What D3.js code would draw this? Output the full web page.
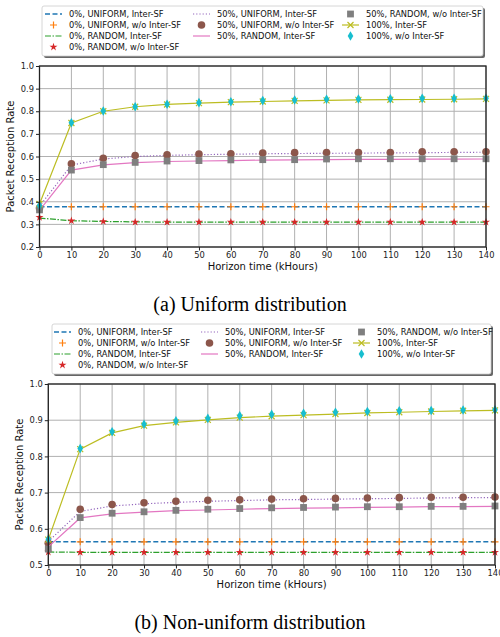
<!DOCTYPE html>
<html><head><meta charset="utf-8">
<script src="https://cdn.jsdelivr.net/npm/d3@7"></script>
<style>body{margin:0;background:#fff}svg{display:block}</style>
</head><body>
<svg id="c" width="500" height="637"></svg>
<script>
const hours = [0,10,20,30,40,50,60,70,80,90,100,110,120,130,140];
const seriesNames = ["0%, UNIFORM, Inter-SF","0%, UNIFORM, w/o Inter-SF","0%, RANDOM, Inter-SF","0%, RANDOM, w/o Inter-SF",
  "50%, UNIFORM, Inter-SF","50%, UNIFORM, w/o Inter-SF","50%, RANDOM, Inter-SF","50%, RANDOM, w/o Inter-SF",
  "100%, Inter-SF","100%, w/o Inter-SF"];
// (a) Uniform distribution
const uniU_inter = [0.378,0.378,0.378,0.378,0.378,0.378,0.378,0.378,0.378,0.378,0.378,0.378,0.378,0.378,0.378];
const uniU_wo    = [0.378,0.378,0.378,0.378,0.378,0.378,0.378,0.378,0.378,0.378,0.378,0.378,0.378,0.378,0.378];
const uniR_inter = [0.328,0.316,0.313,0.311,0.310,0.310,0.310,0.310,0.310,0.310,0.310,0.310,0.310,0.310,0.310];
const uniR_wo    = [0.331,0.316,0.313,0.310,0.310,0.310,0.310,0.310,0.310,0.310,0.310,0.310,0.310,0.310,0.310];
const uni50U_inter = [0.380,0.562,0.589,0.600,0.605,0.608,0.610,0.612,0.613,0.614,0.615,0.616,0.617,0.618,0.619];
const uni50U_wo    = [0.372,0.568,0.592,0.604,0.607,0.611,0.612,0.615,0.617,0.618,0.618,0.618,0.621,0.621,0.621];
const uni50R_inter = [0.362,0.540,0.563,0.573,0.578,0.580,0.582,0.584,0.585,0.586,0.587,0.587,0.588,0.588,0.589];
const uni50R_wo    = [0.364,0.540,0.564,0.574,0.580,0.582,0.585,0.586,0.586,0.589,0.590,0.590,0.590,0.590,0.590];
const uni100_inter = [0.390,0.748,0.800,0.820,0.830,0.836,0.840,0.843,0.846,0.848,0.850,0.851,0.852,0.853,0.855];
const uni100_wo    = [0.383,0.749,0.801,0.820,0.831,0.838,0.842,0.847,0.850,0.853,0.854,0.855,0.857,0.857,0.857];
// (b) Non-uniform distribution
const nonU_inter = [0.564,0.564,0.564,0.564,0.564,0.564,0.564,0.564,0.564,0.564,0.564,0.564,0.564,0.564,0.564];
const nonU_wo    = [0.564,0.564,0.564,0.564,0.564,0.564,0.564,0.564,0.564,0.564,0.564,0.564,0.564,0.564,0.564];
const nonR_inter = [0.536,0.535,0.535,0.535,0.535,0.535,0.535,0.535,0.535,0.535,0.535,0.535,0.535,0.535,0.535];
const nonR_wo    = [0.536,0.535,0.535,0.535,0.535,0.535,0.535,0.535,0.535,0.535,0.535,0.535,0.535,0.535,0.535];
const non50U_inter = [0.565,0.648,0.663,0.669,0.673,0.676,0.678,0.680,0.681,0.682,0.683,0.684,0.685,0.686,0.686];
const non50U_wo    = [0.560,0.654,0.667,0.672,0.676,0.679,0.680,0.682,0.683,0.684,0.685,0.686,0.687,0.687,0.688];
const non50R_inter = [0.550,0.630,0.641,0.646,0.650,0.652,0.654,0.656,0.657,0.658,0.659,0.660,0.661,0.661,0.662];
const non50R_wo    = [0.544,0.631,0.643,0.647,0.651,0.654,0.656,0.658,0.659,0.660,0.661,0.661,0.662,0.662,0.663];
const non100_inter = [0.570,0.820,0.865,0.885,0.894,0.901,0.907,0.911,0.914,0.917,0.920,0.922,0.924,0.926,0.927];
const non100_wo    = [0.571,0.822,0.868,0.889,0.898,0.905,0.912,0.916,0.919,0.922,0.924,0.926,0.927,0.928,0.929];

const xTicks = [0,10,20,30,40,50,60,70,80,90,100,110,120,130,140];
const yTicksA = [0.2,0.3,0.4,0.5,0.6,0.7,0.8,0.9,1.0];
const yTicksB = [0.5,0.6,0.7,0.8,0.9,1.0];

const styles = [
  {color:"#1f77b4", dash:"5,2.5", width:1.5, marker:null},
  {color:"#ff7f0e", dash:null, width:0, marker:"plus"},
  {color:"#2ca02c", dash:"6,1.5,1.5,1.5", width:1.2, marker:null},
  {color:"#d62728", dash:null, width:0, marker:"star"},
  {color:"#9467bd", dash:"1.2,2", width:1.2, marker:null},
  {color:"#8c564b", dash:null, width:0, marker:"circle"},
  {color:"#e377c2", dash:null, width:1.2, marker:null},
  {color:"#7f7f7f", dash:null, width:0, marker:"square"},
  {color:"#bcbd22", dash:null, width:1.2, marker:"x"},
  {color:"#17becf", dash:null, width:0, marker:"diamond"}
];

const svg = d3.select("#c");
const FONT = "DejaVu Sans, sans-serif";

function drawMarker(g, type, x, y, color) {
  if (type === "plus") {
    g.append("path").attr("d", `M${x-3.5},${y}H${x+3.5}M${x},${y-3.5}V${y+3.5}`).attr("stroke", color).attr("stroke-width", 1.2).attr("fill","none");
  } else if (type === "x") {
    g.append("path").attr("d", `M${x-3},${y-3}L${x+3},${y+3}M${x-3},${y+3}L${x+3},${y-3}`).attr("stroke", color).attr("stroke-width", 1.2).attr("fill","none");
  } else if (type === "star") {
    g.append("path").attr("d", d3.symbol(d3.symbolStar, 20)()).attr("transform", `translate(${x},${y})`).attr("fill", color);
  } else if (type === "circle") {
    g.append("circle").attr("cx", x).attr("cy", y).attr("r", 3.8).attr("fill", color);
  } else if (type === "square") {
    g.append("rect").attr("x", x-3.4).attr("y", y-3.4).attr("width", 6.8).attr("height", 6.8).attr("fill", color);
  } else if (type === "diamond") {
    g.append("path").attr("d", `M${x},${y-4.8}L${x+2.8},${y}L${x},${y+4.8}L${x-2.8},${y}Z`).attr("fill", color);
  }
}

function panel(cfg) {
  const {data, yDomain, yTicks, left, right, top, bottom, leg, ylabelX, caption, captionY} = cfg;
  const x = d3.scaleLinear().domain([0,140]).range([left,right]);
  const y = d3.scaleLinear().domain(yDomain).range([bottom,top]);
  const g = svg.append("g");
  // grid
  g.append("g").selectAll("line.vx").data(xTicks).join("line")
    .attr("x1", d=>x(d)).attr("x2", d=>x(d)).attr("y1", top).attr("y2", bottom)
    .attr("stroke", "#b0b0b0").attr("stroke-width", 1);
  g.append("g").selectAll("line.hy").data(yTicks).join("line")
    .attr("x1", left).attr("x2", right).attr("y1", d=>y(d)).attr("y2", d=>y(d))
    .attr("stroke", "#b0b0b0").attr("stroke-width", 1);
  // series
  const line = d3.line().x((d,i)=>x(hours[i])).y(d=>y(d));
  data.forEach((vals, k) => {
    const s = styles[k];
    if (s.width > 0) {
      g.append("path").datum(vals).attr("d", line).attr("fill","none")
        .attr("stroke", s.color).attr("stroke-width", s.width)
        .attr("stroke-dasharray", s.dash);
    }
    if (s.marker) {
      const mg = g.append("g");
      vals.forEach((v,i) => drawMarker(mg, s.marker, x(hours[i]), y(v), s.color));
    }
  });
  // axes
  const xa = g.append("g").attr("transform", `translate(0,${bottom})`)
    .call(d3.axisBottom(x).tickValues(xTicks).tickSize(3.5).tickPadding(2).tickFormat(d3.format("d")));
  const ya = g.append("g").attr("transform", `translate(${left},0)`)
    .call(d3.axisLeft(y).tickValues(yTicks).tickSize(3.5).tickPadding(2).tickFormat(d3.format(".1f")));
  [xa, ya].forEach(a => {
    a.selectAll("text").attr("font-family", FONT).attr("font-size", 8.3).attr("fill", "#222");
    a.selectAll("line").attr("stroke", "#222");
    a.select(".domain").remove();
  });
  g.append("rect").attr("x", left).attr("y", top).attr("width", right-left).attr("height", bottom-top)
    .attr("fill","none").attr("stroke","#222").attr("stroke-width", 1.3);
  // labels
  g.append("text").attr("x", (left+right)/2).attr("y", bottom+23).attr("text-anchor","middle")
    .attr("font-family", FONT).attr("font-size", 10).attr("fill","#111").text("Horizon time (kHours)");
  g.append("text").attr("transform", `translate(${ylabelX},${(top+bottom)/2}) rotate(-90)`).attr("text-anchor","middle")
    .attr("font-family", FONT).attr("font-size", 10).attr("fill","#111").text("Packet Reception Rate");
  g.append("text").attr("x", 250).attr("y", captionY).attr("text-anchor","middle")
    .attr("font-family", "Liberation Serif, Times New Roman, serif").attr("font-size", 20).attr("fill","#000").text(caption);
  // legend
  const lg = g.append("g");
  lg.append("rect").attr("x", leg.x+2).attr("y", leg.y+2).attr("width", leg.w).attr("height", leg.h).attr("rx", 2)
    .attr("fill", "#666");
  lg.append("rect").attr("x", leg.x).attr("y", leg.y).attr("width", leg.w).attr("height", leg.h).attr("rx", 2)
    .attr("fill", "#fff").attr("stroke", "#ccc").attr("stroke-width", 0.8);
  const cols = [[0,1,2,3],[4,5,6],[7,8,9]];
  cols.forEach((idxs, c) => {
    idxs.forEach((k, r) => {
      const hx = leg.x + leg.colX[c];
      const cy = leg.y + 8 + r*11;
      const s = styles[k];
      if (s.width > 0) {
        lg.append("line").attr("x1", hx).attr("x2", hx+17).attr("y1", cy).attr("y2", cy)
          .attr("stroke", s.color).attr("stroke-width", s.width).attr("stroke-dasharray", s.dash);
      }
      if (s.marker) drawMarker(lg, s.marker, hx+8.5, cy, s.color);
      lg.append("text").attr("x", hx+24).attr("y", cy+3).attr("font-family", FONT).attr("font-size", 8.3)
        .attr("fill","#111").text(seriesNames[k]);
    });
  });
}

panel({
  data:[uniU_inter,uniU_wo,uniR_inter,uniR_wo,uni50U_inter,uni50U_wo,uni50R_inter,uni50R_wo,uni100_inter,uni100_wo],
  yDomain:[0.2,1.0], yTicks:yTicksA, left:39.5, right:486, top:66, bottom:247,
  leg:{x:42, y:6, w:441, h:50, colX:[3,151,300]}, ylabelX:14, caption:"(a) Uniform distribution", captionY:311
});
panel({
  data:[nonU_inter,nonU_wo,nonR_inter,nonR_wo,non50U_inter,non50U_wo,non50R_inter,non50R_wo,non100_inter,non100_wo],
  yDomain:[0.5,1.0], yTicks:yTicksB, left:48.3, right:495, top:384, bottom:565,
  leg:{x:52, y:324, w:439, h:50, colX:[2,149,301]}, ylabelX:23, caption:"(b) Non-uniform distribution", captionY:629
});
</script>
</body></html>
